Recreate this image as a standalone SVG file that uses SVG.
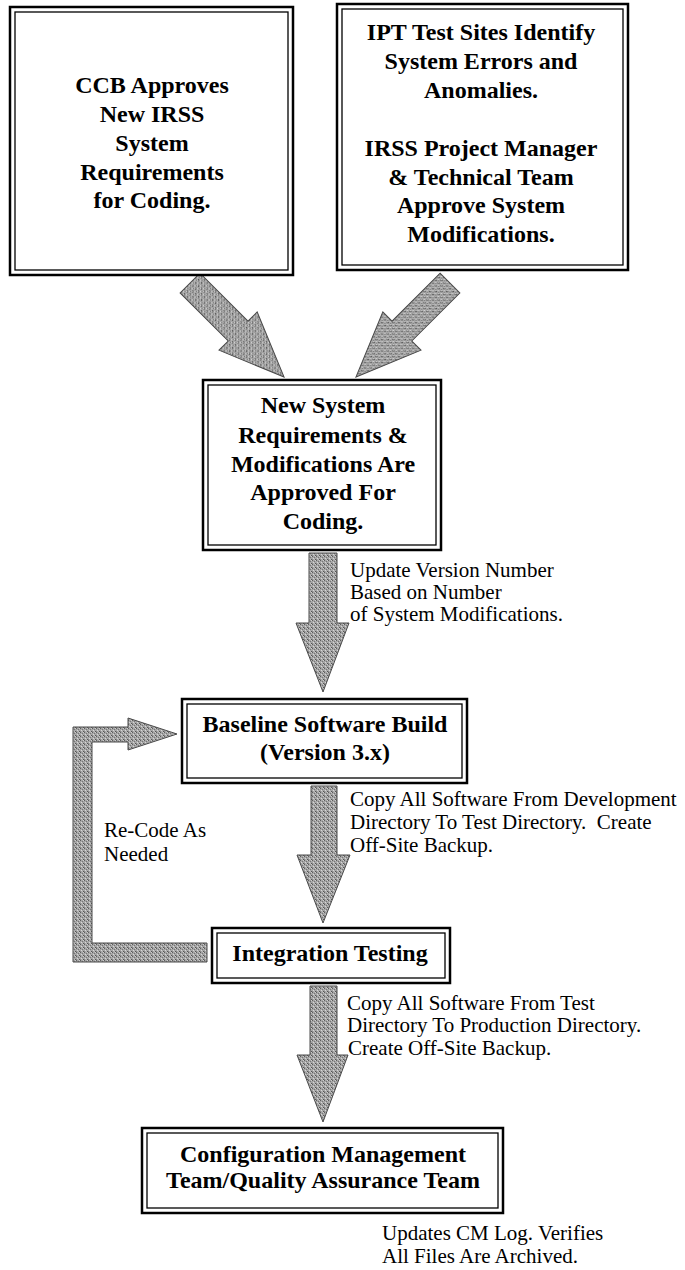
<svg xmlns="http://www.w3.org/2000/svg" width="685" height="1270" viewBox="0 0 685 1270">
<defs>
<pattern id="dither" width="4" height="4" patternUnits="userSpaceOnUse">
<rect width="4" height="4" fill="#a6a6a6"/>
<rect x="0" y="0" width="1" height="1" fill="#5e5e5e"/>
<rect x="2" y="1" width="1" height="1" fill="#767676"/>
<rect x="1" y="2" width="1" height="1" fill="#d6d6d6"/>
<rect x="3" y="3" width="1" height="1" fill="#555555"/>
<rect x="3" y="0" width="1" height="1" fill="#cccccc"/>
<rect x="0" y="3" width="1" height="1" fill="#8c8c8c"/>
<rect x="2" y="3" width="1" height="1" fill="#bdbdbd"/>
</pattern>
<style>
.outer{fill:#fff;stroke:#000;stroke-width:2.5}
.inner{fill:none;stroke:#000;stroke-width:1.3}
.bt{font-family:"Liberation Serif","Times New Roman",serif;font-weight:bold;font-size:24px;fill:#000;text-anchor:middle}
.lt{font-family:"Liberation Serif","Times New Roman",serif;font-size:21px;fill:#000;white-space:pre}
.arr{fill:url(#dither);stroke:#4a4a4a;stroke-width:1}
</style>
</defs>
<rect width="685" height="1270" fill="#fff"/>

<g id="connectors">
<polygon class="arr" transform="translate(190,283) rotate(45)" points="0,-14 68,-14 68,-27 133,0 68,27 68,14 0,14"/>
<polygon class="arr" transform="translate(450,283) rotate(135)" points="0,-14 68,-14 68,-27 133,0 68,27 68,14 0,14"/>
<polygon class="arr" points="309,553 337,553 337,623 349,623 323,692 296,623 309,623"/>
<polygon class="arr" points="311,786 337,786 337,855 350,855 323,923 297,855 311,855"/>
<polygon class="arr" points="310,986 337,986 337,1055 348,1055 323,1122 297,1055 310,1055"/>
<polygon class="arr" points="73,962 73,727 128,727 128,718 177,734 128,750 128,742 92,742 92,943 207,943 207,962"/>
<text class="lt" x="350" y="577">Update Version Number</text>
<text class="lt" x="350" y="599">Based on Number</text>
<text class="lt" x="350" y="621">of System Modifications.</text>
<text class="lt" x="350" y="806">Copy All Software From Development</text>
<text class="lt" x="350" y="829" xml:space="preserve">Directory To Test Directory.  Create</text>
<text class="lt" x="350" y="852">Off-Site Backup.</text>
<text class="lt" x="104" y="837">Re-Code As</text>
<text class="lt" x="104" y="861">Needed</text>
<text class="lt" x="347" y="1010">Copy All Software From Test</text>
<text class="lt" x="347" y="1032">Directory To Production Directory.</text>
<text class="lt" x="348" y="1055">Create Off-Site Backup.</text>
</g>

<g id="node-ccb">
<rect class="outer" x="10" y="7" width="283" height="268"/>
<rect class="inner" x="15" y="12" width="273" height="258"/>
<text class="bt" x="152" y="93">CCB Approves</text>
<text class="bt" x="152" y="122">New IRSS</text>
<text class="bt" x="152" y="151">System</text>
<text class="bt" x="152" y="180">Requirements</text>
<text class="bt" x="152" y="208">for Coding.</text>
</g>

<g id="node-ipt">
<rect class="outer" x="337" y="4" width="291" height="266"/>
<rect class="inner" x="342" y="9" width="281" height="256"/>
<text class="bt" x="481" y="40">IPT Test Sites Identify</text>
<text class="bt" x="481" y="69">System Errors and</text>
<text class="bt" x="481" y="98">Anomalies.</text>
<text class="bt" x="481" y="156">IRSS Project Manager</text>
<text class="bt" x="481" y="185">&amp; Technical Team</text>
<text class="bt" x="481" y="213">Approve System</text>
<text class="bt" x="481" y="242">Modifications.</text>
</g>

<g id="node-approved">
<rect class="outer" x="203" y="380" width="238" height="170"/>
<rect class="inner" x="208" y="385" width="228" height="160"/>
<text class="bt" x="323" y="413">New System</text>
<text class="bt" x="323" y="443">Requirements &amp;</text>
<text class="bt" x="323" y="472">Modifications Are</text>
<text class="bt" x="323" y="500">Approved For</text>
<text class="bt" x="323" y="529">Coding.</text>
</g>

<g id="node-baseline">
<rect class="outer" x="182" y="699" width="285" height="84"/>
<rect class="inner" x="187" y="704" width="275" height="74"/>
<text class="bt" x="325" y="732">Baseline Software Build</text>
<text class="bt" x="325" y="760">(Version 3.x)</text>
</g>

<g id="node-integration">
<rect class="outer" x="212" y="928" width="238" height="55"/>
<rect class="inner" x="217" y="933" width="228" height="45"/>
<text class="bt" x="330" y="961">Integration Testing</text>
</g>

<g id="node-cm">
<rect class="outer" x="142" y="1128" width="361" height="85"/>
<rect class="inner" x="147" y="1133" width="351" height="75"/>
<text class="bt" x="323" y="1162">Configuration Management</text>
<text class="bt" x="323" y="1188">Team/Quality Assurance Team</text>
</g>

<g id="note-cm">
<text class="lt" x="382" y="1240">Updates CM Log. Verifies</text>
<text class="lt" x="382" y="1263">All Files Are Archived.</text>
</g>
</svg>
